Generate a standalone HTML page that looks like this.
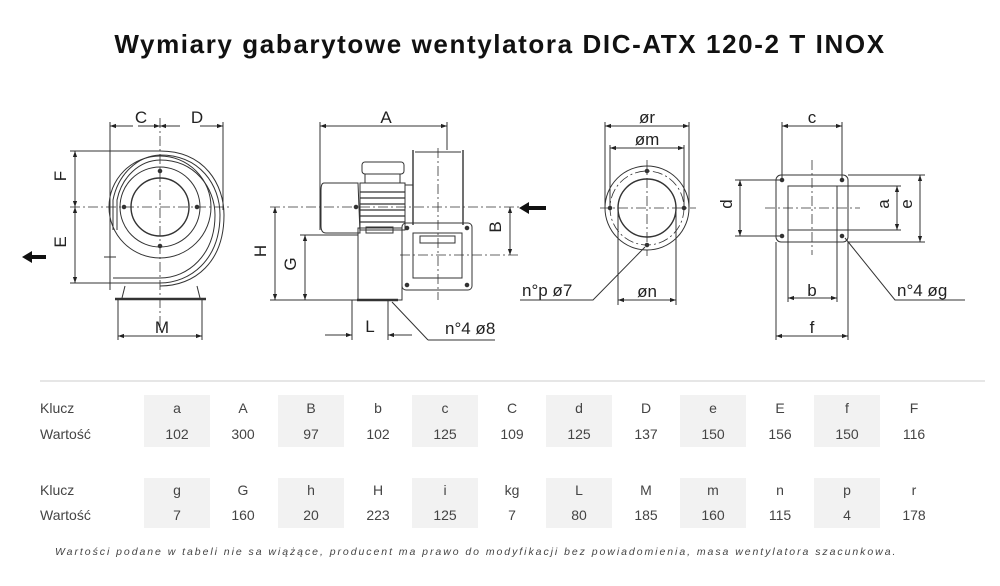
<!DOCTYPE html>
<html><head><meta charset="utf-8"><style>
html,body{margin:0;padding:0;background:#fff;width:1000px;height:586px;overflow:hidden}
svg{position:absolute;left:0;top:0}
</style></head><body>
<svg width="1000" height="586" viewBox="0 0 1000 586" xmlns="http://www.w3.org/2000/svg">
<defs>
<marker id="ar" viewBox="0 0 10 10" refX="10" refY="5" markerWidth="9" markerHeight="6" orient="auto-start-reverse" markerUnits="userSpaceOnUse"><path d="M0,1.5 L10,5 L0,8.5 z" fill="#222"/></marker>
</defs>
<text x="500" y="53" text-anchor="middle" font-family="Liberation Sans, sans-serif" font-weight="bold" font-size="26" letter-spacing="1.6" fill="#111">Wymiary gabarytowe wentylatora DIC-ATX 120-2 T INOX</text>

<g stroke="#333" stroke-width="1" fill="none" font-family="Liberation Sans, sans-serif">
<g stroke-dasharray="10,3,2,3" stroke-width="0.8">
<line x1="70" y1="207" x2="230" y2="207"/><line x1="160" y1="118" x2="160" y2="330"/>
</g>
<circle cx="160" cy="207" r="29" stroke-width="1.4"/>
<circle cx="160" cy="207" r="40"/>
<circle cx="160" cy="207" r="51"/>
<path d="M113,230 L113,200 A50,58 0 0 1 160,155 C200,155 220,185 220,215 C220,260 190,283 160,283 L110,283"/>
<path d="M117,230 L117,200 A45,52 0 0 1 160,160 C195,160 215,188 215,215 C215,255 188,278 160,278 L113,278"/>
<path d="M110,151 L160,151 C205,151 224,185 224,215 C224,262 195,286 160,286"/>
<line x1="110" y1="122" x2="110" y2="290"/>
<line x1="223" y1="122" x2="223" y2="210"/>
<circle cx="160" cy="171" r="1.8" fill="#333"/><circle cx="160" cy="246" r="1.8" fill="#333"/>
<circle cx="124" cy="207" r="1.8" fill="#333"/><circle cx="197" cy="207" r="1.8" fill="#333"/>
<path d="M125,286 L122,298 M197,286 L200,298"/>
<line x1="115" y1="299" x2="206" y2="299" stroke-width="2.5"/>
<line x1="104" y1="257" x2="116" y2="257"/>
<line x1="133" y1="126" x2="110" y2="126" marker-end="url(#ar)"/><line x1="138" y1="126" x2="160" y2="126" marker-end="url(#ar)"/>
<line x1="180" y1="126" x2="160" y2="126" marker-end="url(#ar)"/><line x1="200" y1="126" x2="223" y2="126" marker-end="url(#ar)"/>
<line x1="70" y1="151" x2="110" y2="151"/><line x1="70" y1="283" x2="110" y2="283"/>
<line x1="75" y1="151" x2="75" y2="207" marker-start="url(#ar)" marker-end="url(#ar)"/>
<line x1="75" y1="207" x2="75" y2="283" marker-start="url(#ar)" marker-end="url(#ar)"/>
<line x1="118" y1="300" x2="118" y2="340"/><line x1="202" y1="300" x2="202" y2="340"/>
<line x1="118" y1="336" x2="202" y2="336" marker-start="url(#ar)" marker-end="url(#ar)"/>
<path d="M22,257 L32,251 L32,255 L46,255 L46,259 L32,259 L32,263 z" fill="#111" stroke="none"/>

<g stroke-dasharray="10,3,2,3" stroke-width="0.8">
<line x1="270" y1="207" x2="520" y2="207"/><line x1="438" y1="148" x2="438" y2="300"/><line x1="400" y1="255" x2="520" y2="255"/>
</g>
<line x1="320" y1="122" x2="320" y2="230"/><line x1="447" y1="122" x2="447" y2="150"/>
<line x1="320" y1="126" x2="447" y2="126" marker-start="url(#ar)" marker-end="url(#ar)"/>
<path d="M324,183 L358,183 L360,233 L326,233 C322,233 321,230 321,226 L321,190 C321,185 322,183 324,183 z"/>
<rect x="360" y="183" width="45" height="47"/>
<g stroke-width="1.2"><line x1="360" y1="192" x2="405" y2="192"/><line x1="360" y1="198" x2="405" y2="198"/><line x1="360" y1="204" x2="405" y2="204"/><line x1="360" y1="210" x2="405" y2="210"/><line x1="360" y1="216" x2="405" y2="216"/><line x1="360" y1="222" x2="405" y2="222"/></g>
<rect x="365" y="174" width="35" height="9"/><rect x="362" y="162" width="42" height="12" rx="3"/>
<line x1="405" y1="185" x2="413" y2="185"/>
<line x1="413" y1="150" x2="413" y2="225" stroke-width="1.4"/><line x1="463" y1="150" x2="463" y2="225" stroke-width="1.4"/>
<line x1="415" y1="152" x2="461" y2="152"/>
<rect x="358" y="228" width="44" height="72"/>
<rect x="366" y="227" width="27" height="6"/>
<rect x="402" y="223" width="70" height="67" rx="4"/>
<rect x="413" y="233" width="49" height="45"/>
<rect x="420" y="236" width="35" height="7"/>
<circle cx="407" cy="228" r="1.8" fill="#333"/><circle cx="467" cy="228" r="1.8" fill="#333"/><circle cx="407" cy="285" r="1.8" fill="#333"/><circle cx="467" cy="285" r="1.8" fill="#333"/>
<circle cx="356" cy="207" r="1.8" fill="#333"/>
<line x1="357" y1="300" x2="398" y2="300" stroke-width="2.5"/>
<line x1="270" y1="300" x2="357" y2="300"/><line x1="300" y1="235" x2="358" y2="235"/>
<line x1="275" y1="207" x2="275" y2="300" marker-start="url(#ar)" marker-end="url(#ar)"/>
<line x1="305" y1="235" x2="305" y2="300" marker-start="url(#ar)" marker-end="url(#ar)"/>
<line x1="510" y1="207" x2="510" y2="255" marker-start="url(#ar)" marker-end="url(#ar)"/>
<line x1="352" y1="300" x2="352" y2="340"/><line x1="388" y1="300" x2="388" y2="340"/>
<line x1="325" y1="335" x2="352" y2="335" marker-end="url(#ar)"/><line x1="412" y1="335" x2="388" y2="335" marker-end="url(#ar)"/>
<path d="M428,340 L495,340 M428,340 L392,302"/>
<path d="M519,208 L529,202 L529,206 L546,206 L546,210 L529,210 L529,214 z" fill="#111" stroke="none"/>

<g stroke-dasharray="10,3,2,3" stroke-width="0.8">
<line x1="600" y1="208" x2="696" y2="208"/><line x1="647" y1="160" x2="647" y2="256"/>
<circle cx="647" cy="208" r="37"/>
</g>
<circle cx="647" cy="208" r="42"/><circle cx="647" cy="208" r="29" stroke-width="1.4"/>
<circle cx="647" cy="171" r="1.8" fill="#333"/><circle cx="647" cy="245" r="1.8" fill="#333"/><circle cx="610" cy="208" r="1.8" fill="#333"/><circle cx="684" cy="208" r="1.8" fill="#333"/>
<line x1="605" y1="122" x2="605" y2="208"/><line x1="689" y1="122" x2="689" y2="208"/>
<line x1="610" y1="145" x2="610" y2="208"/><line x1="684" y1="145" x2="684" y2="208"/>
<line x1="618" y1="208" x2="618" y2="305"/><line x1="676" y1="208" x2="676" y2="305"/>
<line x1="605" y1="126" x2="689" y2="126" marker-start="url(#ar)" marker-end="url(#ar)"/>
<line x1="610" y1="148" x2="684" y2="148" marker-start="url(#ar)" marker-end="url(#ar)"/>
<line x1="618" y1="300" x2="676" y2="300" marker-start="url(#ar)" marker-end="url(#ar)"/>
<path d="M520,300 L593,300 L645,247"/>

<g stroke-dasharray="10,3,2,3" stroke-width="0.8">
<line x1="765" y1="208" x2="860" y2="208"/><line x1="812" y1="160" x2="812" y2="255"/>
</g>
<rect x="776" y="175" width="72" height="67" rx="5"/>
<rect x="788" y="186" width="49" height="44"/>
<circle cx="782" cy="180" r="1.8" fill="#333"/><circle cx="842" cy="180" r="1.8" fill="#333"/><circle cx="782" cy="236" r="1.8" fill="#333"/><circle cx="842" cy="236" r="1.8" fill="#333"/>
<line x1="782" y1="122" x2="782" y2="180"/><line x1="842" y1="122" x2="842" y2="180"/>
<line x1="782" y1="126" x2="842" y2="126" marker-start="url(#ar)" marker-end="url(#ar)"/>
<line x1="735" y1="180" x2="782" y2="180"/><line x1="735" y1="236" x2="782" y2="236"/>
<line x1="740" y1="180" x2="740" y2="236" marker-start="url(#ar)" marker-end="url(#ar)"/>
<line x1="837" y1="186" x2="901" y2="186"/><line x1="837" y1="230" x2="901" y2="230"/>
<line x1="897" y1="186" x2="897" y2="230" marker-start="url(#ar)" marker-end="url(#ar)"/>
<line x1="848" y1="175" x2="925" y2="175"/><line x1="848" y1="242" x2="925" y2="242"/>
<line x1="920" y1="175" x2="920" y2="242" marker-start="url(#ar)" marker-end="url(#ar)"/>
<line x1="788" y1="230" x2="788" y2="302"/><line x1="837" y1="230" x2="837" y2="302"/>
<line x1="788" y1="298" x2="837" y2="298" marker-start="url(#ar)" marker-end="url(#ar)"/>
<line x1="776" y1="242" x2="776" y2="340"/><line x1="848" y1="242" x2="848" y2="340"/>
<line x1="776" y1="336" x2="848" y2="336" marker-start="url(#ar)" marker-end="url(#ar)"/>
<path d="M965,300 L895,300 L845,238"/>
</g>

<g font-family="Liberation Sans, sans-serif" font-size="17" fill="#222">
<text x="141" y="123" text-anchor="middle">C</text><text x="197" y="123" text-anchor="middle">D</text>
<text x="70" y="180" text-anchor="middle" transform="rotate(-90 66 180)">F</text>
<text x="70" y="246" text-anchor="middle" transform="rotate(-90 66 246)">E</text>
<text x="162" y="333" text-anchor="middle">M</text>
<text x="386" y="123" text-anchor="middle">A</text>
<text x="270" y="255" text-anchor="middle" transform="rotate(-90 266 255)">H</text>
<text x="300" y="268" text-anchor="middle" transform="rotate(-90 296 268)">G</text>
<text x="505" y="231" text-anchor="middle" transform="rotate(-90 501 231)">B</text>
<text x="370" y="332" text-anchor="middle">L</text>
<text x="445" y="334">n°4  ø8</text>
<text x="647" y="123" text-anchor="middle">ør</text><text x="647" y="145" text-anchor="middle">øm</text>
<text x="647" y="297" text-anchor="middle">øn</text>
<text x="522" y="296">n°p  ø7</text>
<text x="812" y="123" text-anchor="middle">c</text>
<text x="736" y="208" text-anchor="middle" transform="rotate(-90 732 208)">d</text>
<text x="893" y="208" text-anchor="middle" transform="rotate(-90 889 208)">a</text>
<text x="916" y="208" text-anchor="middle" transform="rotate(-90 912 208)">e</text>
<text x="812" y="296" text-anchor="middle">b</text><text x="812" y="333" text-anchor="middle">f</text>
<text x="897" y="296">n°4  øg</text>
</g>

<line x1="40" y1="381" x2="985" y2="381" stroke="#ddd" stroke-width="1.5"/>
<g fill="#f2f2f2">
<rect x="144" y="395" width="66" height="52"/><rect x="278" y="395" width="66" height="52"/><rect x="412" y="395" width="66" height="52"/><rect x="546" y="395" width="66" height="52"/><rect x="680" y="395" width="66" height="52"/><rect x="814" y="395" width="66" height="52"/>
<rect x="144" y="478" width="66" height="50"/><rect x="278" y="478" width="66" height="50"/><rect x="412" y="478" width="66" height="50"/><rect x="546" y="478" width="66" height="50"/><rect x="680" y="478" width="66" height="50"/><rect x="814" y="478" width="66" height="50"/>
</g>
<g font-family="Liberation Sans, sans-serif" font-size="14" fill="#444" text-anchor="middle">
<text x="40" y="413" text-anchor="start">Klucz</text><text x="40" y="439" text-anchor="start">Wartość</text>
<text x="40" y="495" text-anchor="start">Klucz</text><text x="40" y="520" text-anchor="start">Wartość</text>
<text x="177" y="413">a</text><text x="243" y="413">A</text><text x="311" y="413">B</text><text x="378" y="413">b</text><text x="445" y="413">c</text><text x="512" y="413">C</text><text x="579" y="413">d</text><text x="646" y="413">D</text><text x="713" y="413">e</text><text x="780" y="413">E</text><text x="847" y="413">f</text><text x="914" y="413">F</text>
<text x="177" y="439">102</text><text x="243" y="439">300</text><text x="311" y="439">97</text><text x="378" y="439">102</text><text x="445" y="439">125</text><text x="512" y="439">109</text><text x="579" y="439">125</text><text x="646" y="439">137</text><text x="713" y="439">150</text><text x="780" y="439">156</text><text x="847" y="439">150</text><text x="914" y="439">116</text>
<text x="177" y="495">g</text><text x="243" y="495">G</text><text x="311" y="495">h</text><text x="378" y="495">H</text><text x="445" y="495">i</text><text x="512" y="495">kg</text><text x="579" y="495">L</text><text x="646" y="495">M</text><text x="713" y="495">m</text><text x="780" y="495">n</text><text x="847" y="495">p</text><text x="914" y="495">r</text>
<text x="177" y="520">7</text><text x="243" y="520">160</text><text x="311" y="520">20</text><text x="378" y="520">223</text><text x="445" y="520">125</text><text x="512" y="520">7</text><text x="579" y="520">80</text><text x="646" y="520">185</text><text x="713" y="520">160</text><text x="780" y="520">115</text><text x="847" y="520">4</text><text x="914" y="520">178</text>
</g>
<text x="55" y="555" font-family="Liberation Sans, sans-serif" font-style="italic" font-size="10.5" letter-spacing="1.95" fill="#444">Wartości podane w tabeli nie sa wiążące, producent ma prawo do modyfikacji bez powiadomienia, masa wentylatora szacunkowa.</text>
</svg>
</body></html>
